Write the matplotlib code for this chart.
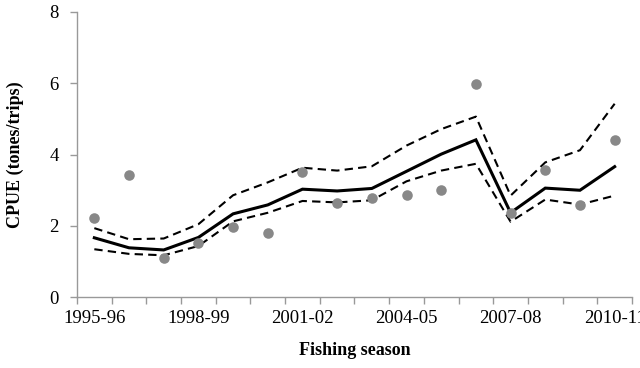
import matplotlib
matplotlib.use("Agg")
import matplotlib.pyplot as plt
import numpy as np

seasons = ["1995-96", "1996-97", "1997-98", "1998-99", "1999-00", "2000-01",
           "2001-02", "2002-03", "2003-04", "2004-05", "2005-06", "2006-07",
           "2007-08", "2008-09", "2009-10", "2010-11"]
observed = [2.22, 3.43, 1.11, 1.52, 1.97, 1.80, 3.50, 2.65, 2.79, 2.88, 3.00,
            5.97, 2.37, 3.57, 2.58, 4.41]
predicted = [1.67, 1.39, 1.33, 1.68, 2.34, 2.59, 3.03, 2.98, 3.05, 3.53, 4.01,
             4.41, 2.37, 3.06, 3.00, 3.66]
upper_ci = [1.94, 1.63, 1.65, 2.05, 2.86, 3.22, 3.63, 3.55, 3.67, 4.25, 4.71,
            5.06, 2.85, 3.78, 4.12, 5.42]
lower_ci = [1.35, 1.22, 1.18, 1.44, 2.13, 2.37, 2.70, 2.66, 2.72, 3.25, 3.55,
            3.74, 2.12, 2.74, 2.60, 2.85]
labelled = ["1995-96", "1998-99", "2001-02", "2004-05", "2007-08", "2010-11"]

plt.rcParams['font.family'] = ['Liberation Serif', 'DejaVu Serif']

fig = plt.figure(figsize=(6.4, 3.68), dpi=100)
ax = fig.add_axes([0.1203, 0.1916, 0.8672, 0.7771])

x = np.arange(len(seasons)) + 0.5
ax.plot(x, upper_ci, color='black', lw=1.5, dashes=(4, 2.5))
ax.plot(x, lower_ci, color='black', lw=1.5, dashes=(4, 2.5))
ax.plot(x, predicted, color='black', lw=2.2, solid_joinstyle='miter')
ax.plot(x, observed, 'o', color='#888888', markersize=7.6, markeredgewidth=0)

ax.set_xlim(0, len(seasons))
ax.set_ylim(0, 8)
ax.set_yticks([0, 2, 4, 6, 8])

ax.set_xticks(np.arange(0, len(seasons) + 1))
ax.set_xticklabels([])
pos = [seasons.index(s) + 0.5 for s in labelled]
ax.set_xticks(pos, minor=True)
ax.set_xticklabels(labelled, minor=True)
ax.tick_params(axis='x', which='minor', length=0, pad=9, labelsize=13.5)
ax.tick_params(axis='x', which='major', length=5, width=1, color='#999999')
ax.tick_params(axis='y', length=5, width=1, color='#999999', pad=8, labelsize=13.5)

for s in ['top', 'right']:
    ax.spines[s].set_visible(False)
for s in ['left', 'bottom']:
    ax.spines[s].set_color('#999999')
    ax.spines[s].set_linewidth(1)

fig.text(0.554, 0.025, 'Fishing season', ha='center', va='bottom',
         fontsize=13, fontweight='bold')
fig.text(0.024, 0.58, 'CPUE (tones/trips)', ha='center', va='center',
         rotation=90, fontsize=13, fontweight='bold')

fig.savefig('out.png', dpi=100)
